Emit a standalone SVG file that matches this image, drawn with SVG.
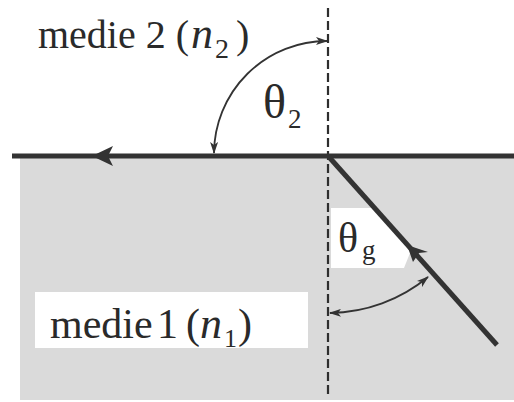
<svg xmlns="http://www.w3.org/2000/svg" width="514" height="402" viewBox="0 0 514 402">
<style>
  .t { font-family: "Liberation Serif", "Times New Roman", serif; fill: #2a2a2a; }
  .it { font-style: italic; }
  .thick { stroke: #333; stroke-width: 5; fill: none; stroke-linecap: butt; }
  .thin { stroke: #333; stroke-width: 1.8; fill: none; }
  .dash { stroke: #2e2e2e; stroke-width: 2.2; stroke-dasharray: 9 4; fill: none; }
  .head { fill: #333; }
</style>
<defs>
  <marker id="ah" markerUnits="userSpaceOnUse" markerWidth="12" markerHeight="8" refX="11" refY="4" orient="auto-start-reverse">
    <path d="M0,0 L12,4 L0,8 L3,4 z" fill="#333"/>
  </marker>
</defs>
<rect width="514" height="402" fill="#ffffff"/>
<g id="medium1-region">
  <rect x="20" y="158" width="494" height="242" fill="#dadada"/>
</g>
<g id="label-thetag-bg">
  <path d="M331,208 L375,208 L412,248 L404,268 L331,268 z" fill="#ffffff"/>
</g>
<g id="connectors">
  <line class="dash" x1="328" y1="8" x2="328" y2="394"/>
  <line class="thick" x1="12" y1="156" x2="514" y2="156"/>
  <path class="head" d="M92,156 L113,146 L108,156 L113,166 z"/>
  <line class="thick" x1="329" y1="157" x2="497" y2="345"/>
  <path class="head" d="M407,245 L428,252 L419,253 L413,262 z"/>
  <path class="thin" d="M214,153 A113 113 0 0 1 327,41" marker-start="url(#ah)" marker-end="url(#ah)"/>
  <path class="thin" d="M330,313 A157 157 0 0 0 428,277" marker-start="url(#ah)" marker-end="url(#ah)"/>
</g>
<g id="label-medium2">
  <text class="t" font-size="40" y="48"><tspan x="38">medie 2 (</tspan><tspan class="it" x="191" font-size="44">n</tspan><tspan x="215" y="58" font-size="28">2</tspan><tspan x="236" y="48">)</tspan></text>
</g>
<g id="label-medium1">
  <rect x="35" y="292" width="273" height="56" fill="#ffffff"/>
  <text class="t" font-size="42" y="338"><tspan x="50" word-spacing="-6">medie 1</tspan><tspan x="186">(</tspan><tspan class="it" x="200" font-size="44">n</tspan><tspan x="224" y="347" font-size="26">1</tspan><tspan x="238" y="338">)</tspan></text>
</g>
<g id="label-theta2">
  <text class="t" font-size="48" y="118"><tspan x="263">θ</tspan><tspan x="288" y="128" font-size="27">2</tspan></text>
</g>
<g id="label-thetag">
  <text class="t" font-size="42" y="252"><tspan x="338">θ</tspan><tspan x="362" y="259" font-size="27">g</tspan></text>
</g>
</svg>
